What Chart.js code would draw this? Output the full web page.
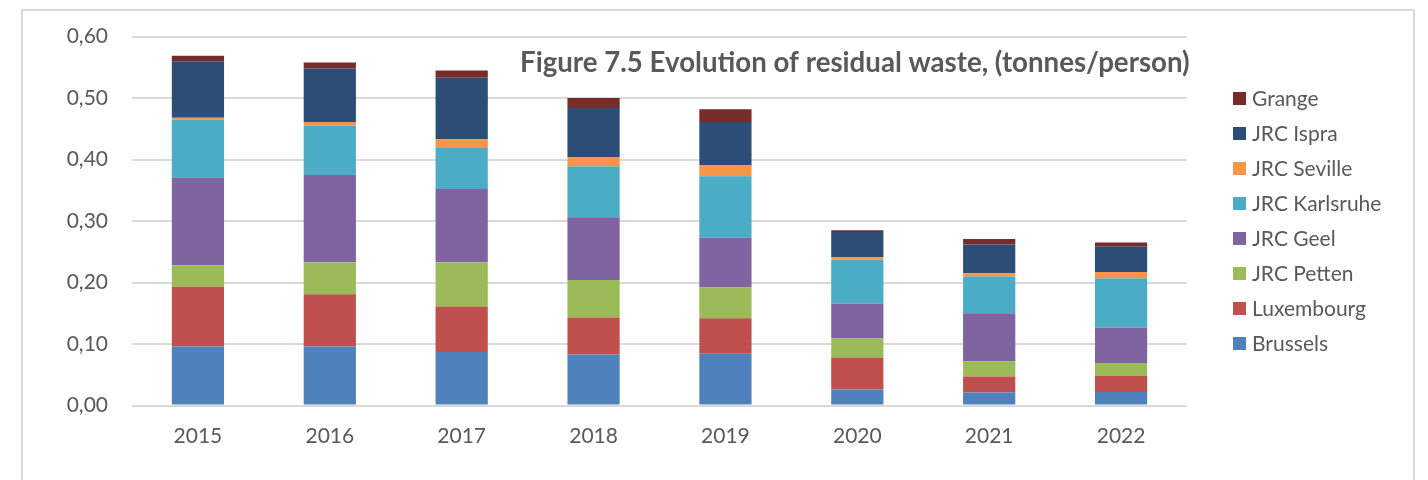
<!DOCTYPE html>
<html>
<head>
<meta charset="utf-8">
<script src="https://cdn.jsdelivr.net/npm/chart.js@4/dist/chart.umd.min.js"></script>
<style>
  html, body { margin: 0; padding: 0; background: #fff; }
  #wrap { position: relative; width: 1428px; height: 480px; overflow: hidden; }
  #frame { position: absolute; left: 21px; top: 9px; width: 1394px; height: 520px; border: 2px solid #d9d9d9; box-sizing: border-box; }
  canvas { position: absolute; left: 0; top: 0; }
</style>
</head>
<body>
<div id="wrap">
  <div id="frame"></div>
  <canvas id="c" width="1428" height="480"></canvas>
</div>
<script>
const categories = ['2015', '2016', '2017', '2018', '2019', '2020', '2021', '2022'];
const brussels   = [0.096, 0.096, 0.087, 0.083, 0.084, 0.026, 0.021, 0.022];
const luxembourg = [0.097, 0.085, 0.074, 0.060, 0.058, 0.052, 0.026, 0.026];
const petten     = [0.035, 0.052, 0.072, 0.061, 0.050, 0.031, 0.025, 0.021];
const geel       = [0.143, 0.142, 0.119, 0.102, 0.081, 0.057, 0.078, 0.058];
const karlsruhe  = [0.094, 0.080, 0.067, 0.083, 0.100, 0.071, 0.060, 0.080];
const seville    = [0.003, 0.006, 0.014, 0.015, 0.018, 0.004, 0.005, 0.010];
const ispra      = [0.092, 0.087, 0.100, 0.080, 0.070, 0.041, 0.047, 0.042];
const grange     = [0.009, 0.010, 0.012, 0.016, 0.021, 0.003, 0.009, 0.006];
const yTicks     = [0, 0.1, 0.2, 0.3, 0.4, 0.5, 0.6];
const titleText  = 'Figure 7.5 Evolution of residual waste, (tonnes/person)';

const FONT = 'Lato, "Open Sans", sans-serif';
const GREY = '#595959';

const series = [
  { label: 'Brussels',       data: brussels,   color: '#4F81BD' },
  { label: 'Luxembourg',     data: luxembourg, color: '#C0504D' },
  { label: 'JRC Petten',     data: petten,     color: '#9BBB59' },
  { label: 'JRC Geel',       data: geel,       color: '#8064A2' },
  { label: 'JRC Karlsruhe',  data: karlsruhe,  color: '#4BACC6' },
  { label: 'JRC Seville',    data: seville,    color: '#F79646' },
  { label: 'JRC Ispra',      data: ispra,      color: '#2C4D75' },
  { label: 'Grange',         data: grange,     color: '#772C2A' }
];

const overlay = {
  id: 'overlay',
  afterDraw(chart) {
    const ctx = chart.ctx;
    ctx.save();
    // title
    ctx.fillStyle = GREY;
    ctx.textBaseline = 'middle';
    ctx.textAlign = 'left';
    let size = 22;
    ctx.font = 'bold ' + size + 'px ' + FONT;
    const w = ctx.measureText(titleText).width;
    size = size * 670 / w;
    ctx.font = 'bold ' + size.toFixed(2) + 'px ' + FONT;
    ctx.fillText(titleText, 520, 63);
    // legend (reverse order)
    ctx.font = '21px ' + FONT;
    const ds = chart.data.datasets;
    for (let i = 0; i < ds.length; i++) {
      const d = ds[ds.length - 1 - i];
      const yc = 98.5 + i * 35;
      ctx.fillStyle = d.backgroundColor;
      ctx.fillRect(1233, yc - 6.5, 13, 13);
      ctx.fillStyle = GREY;
      ctx.fillText(d.label, 1252, yc + 1);
    }
    ctx.restore();
  }
};

new Chart(document.getElementById('c'), {
  type: 'bar',
  data: {
    labels: categories,
    datasets: series.map(s => ({
      label: s.label,
      data: s.data,
      backgroundColor: s.color,
      borderWidth: 0,
      barPercentage: 0.396,
      categoryPercentage: 1
    }))
  },
  options: {
    responsive: false,
    animation: false,
    devicePixelRatio: 1,
    layout: { padding: { left: 0, right: 241, top: 34, bottom: 0 } },
    plugins: {
      legend: { display: false },
      title: { display: false },
      tooltip: { enabled: false }
    },
    scales: {
      x: {
        stacked: true,
        grid: { display: false, drawTicks: false },
        border: { display: false },
        ticks: { color: GREY, font: { family: FONT, size: 21 }, padding: 18 },
        afterFit(scale) { scale.height = 74.5; }
      },
      y: {
        stacked: true,
        min: 0,
        max: 0.6,
        afterBuildTicks(scale) { scale.ticks = yTicks.map(v => ({ value: v })); },
        grid: { color: '#d9d9d9', lineWidth: 2, drawTicks: false },
        border: { display: false },
        ticks: {
          color: GREY,
          font: { family: FONT, size: 21 },
          padding: 24,
          callback: v => Number(v).toFixed(2).replace('.', ',')
        },
        afterFit(scale) { scale.width = 132; }
      }
    }
  },
  plugins: [overlay]
});
</script>
</body>
</html>
